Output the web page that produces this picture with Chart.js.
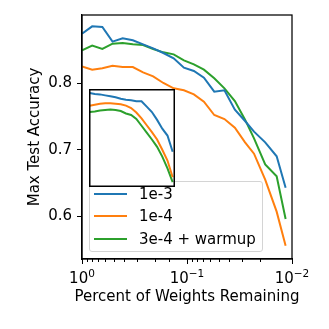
<!DOCTYPE html>
<html>
<head>
<meta charset="utf-8">
<script src="https://cdn.jsdelivr.net/npm/chart.js@4.4.1/dist/chart.umd.min.js"></script>
<style>
  html, body { margin: 0; padding: 0; background: #fff; }
  #wrap { position: relative; width: 329px; height: 329px; }
  #main { position: absolute; left: 0; top: 0; }
  #legend {
    position: absolute; left: 89px; top: 181px; width: 172px; height: 69px;
    border: 1px solid #d4d4d4; border-radius: 3px; background: rgba(255,255,255,0.8);
    font-family: "DejaVu Sans", sans-serif; font-size: 15px; color: #000;
  }
  #legend .sw { position: absolute; left: 4px; width: 33px; height: 2px; }
  #legend .lb { position: absolute; left: 49px; line-height: 18px; white-space: nowrap; }
  #inset { position: absolute; left: 89px; top: 89px; }
</style>
</head>
<body>
<div id="wrap">
  <canvas id="main" width="329" height="329"></canvas>
  <div id="legend"></div>
  <canvas id="inset" width="86" height="98"></canvas>
</div>
<script>
// fraction of weights remaining after each pruning round
const weightsRemaining = [1, 0.8, 0.64, 0.512, 0.41, 0.328, 0.262, 0.21, 0.168, 0.134, 0.107,
  0.086, 0.069, 0.055, 0.044, 0.035, 0.028, 0.023, 0.018, 0.014, 0.0115];

const seriesLabels = ["1e-3", "1e-4", "3e-4 + warmup"];
const seriesColors = ["#1f77b4", "#ff7f0e", "#2ca02c"];

const acc1e3 = [0.874, 0.885, 0.884, 0.862, 0.867, 0.864, 0.858, 0.852, 0.845, 0.837, 0.823,
  0.818, 0.808, 0.787, 0.789, 0.760, 0.743, 0.727, 0.711, 0.690, 0.643];
const acc1e4 = [0.825, 0.820, 0.822, 0.826, 0.824, 0.824, 0.816, 0.810, 0.800, 0.792, 0.789,
  0.783, 0.772, 0.752, 0.746, 0.733, 0.711, 0.694, 0.655, 0.607, 0.556];
const accWarmup = [0.849, 0.856, 0.851, 0.859, 0.860, 0.858, 0.857, 0.851, 0.846, 0.843, 0.834,
  0.828, 0.820, 0.807, 0.792, 0.773, 0.745, 0.717, 0.678, 0.660, 0.596];

// inset (zoomed view), pruning round index
const insetRounds = [0, 1, 2, 3, 4, 5, 6, 7, 8, 9, 10, 11, 12, 13, 14, 15, 16];
const inset1e3 = [0.792, 0.790, 0.789, 0.787, 0.785, 0.783, 0.780, 0.778, 0.777, 0.775, 0.775,
  0.764, 0.753, 0.737, 0.719, 0.705, 0.672];
const inset1e4 = [0.766, 0.768, 0.770, 0.771, 0.771, 0.770, 0.769, 0.766, 0.761, 0.752, 0.740,
  0.726, 0.712, 0.697, 0.676, 0.654, 0.620];
const insetWarmup = [0.753, 0.754, 0.756, 0.757, 0.758, 0.757, 0.755, 0.750, 0.747, 0.739, 0.725,
  0.711, 0.697, 0.682, 0.662, 0.638, 0.610];

const yTicks = [0.6, 0.7, 0.8];
const xMajor = [1, 0.1, 0.01];
const xExponents = ["0", "\u22121", "\u22122"];
const xTitle = "Percent of Weights Remaining";
const yTitle = "Max Test Accuracy";

const FONT = "'DejaVu Sans', sans-serif";
Chart.defaults.font.family = FONT;
Chart.defaults.color = "#000";

function toPoints(xs, ys) {
  return ys.map((y, i) => ({ x: xs[i], y: y }));
}

function isMajor(v) {
  return xMajor.some((m) => Math.abs(Math.log10(v) - Math.log10(m)) < 1e-6);
}

// top/right frame, x tick marks, x tick labels (10^n) and x title
const framePlugin = {
  id: "frame",
  afterDraw(chart) {
    const { ctx, chartArea } = chart;
    const xs = chart.scales.x;
    const b = chartArea.bottom;
    ctx.save();
    ctx.strokeStyle = "#000";
    ctx.lineWidth = 1.25;
    ctx.strokeRect(chartArea.left, chartArea.top, chartArea.right - chartArea.left, b - chartArea.top);
    ctx.lineWidth = 1;
    xs.ticks.forEach((t) => {
      const px = Math.round(xs.getPixelForValue(t.value)) + 0.5;
      ctx.beginPath();
      ctx.moveTo(px, b);
      ctx.lineTo(px, b + (isMajor(t.value) ? 5 : 3));
      ctx.stroke();
    });

    ctx.fillStyle = "#000";
    ctx.textBaseline = "alphabetic";
    ctx.textAlign = "left";
    xMajor.forEach((v, i) => {
      const px = xs.getPixelForValue(v);
      ctx.font = "15px " + FONT;
      const wb = ctx.measureText("10").width;
      ctx.font = "10.5px " + FONT;
      const we = ctx.measureText(xExponents[i]).width;
      const x0 = px - (wb + we) / 2;
      ctx.font = "15px " + FONT;
      ctx.fillText("10", x0, b + 23.5);
      ctx.font = "10.5px " + FONT;
      ctx.fillText(xExponents[i], x0 + wb, b + 18);
    });

    ctx.font = "15px " + FONT;
    ctx.textAlign = "center";
    ctx.fillText(xTitle, (chartArea.left + chartArea.right) / 2, b + 42);
    ctx.restore();
  },
};

const mainData = [acc1e3, acc1e4, accWarmup];

new Chart(document.getElementById("main").getContext("2d"), {
  type: "line",
  data: {
    datasets: mainData.map((d, i) => ({
      label: seriesLabels[i],
      data: toPoints(weightsRemaining, d),
      borderColor: seriesColors[i],
      borderWidth: 2,
      pointRadius: 0,
      tension: 0,
      fill: false,
    })),
  },
  options: {
    responsive: false,
    animation: false,
    devicePixelRatio: 1,
    layout: { padding: { top: 15, right: 37, left: 0, bottom: 0 } },
    plugins: { legend: { display: false }, tooltip: { enabled: false } },
    scales: {
      x: {
        type: "logarithmic",
        min: 0.01,
        max: 1,
        reverse: true,
        afterFit: (s) => { s.height = 70; },
        grid: { display: false },
        border: { display: true, color: "#000", width: 1.25 },
        ticks: { display: false, autoSkip: false },
        title: { display: false },
      },
      y: {
        min: 0.536,
        max: 0.902,
        afterFit: (s) => { s.width = 82; },
        afterBuildTicks: (s) => { s.ticks = yTicks.map((v) => ({ value: v })); },
        grid: { drawOnChartArea: false, tickLength: 5, color: "#000", tickWidth: 1 },
        border: { display: true, color: "#000", width: 1.25 },
        ticks: { padding: 5, font: { size: 15 }, callback: (v) => v.toFixed(1) },
        title: {
          display: true,
          text: yTitle,
          font: { size: 15 },
          padding: { top: 26, bottom: 0 },
        },
      },
    },
  },
  plugins: [framePlugin],
});

// legend
const legendEl = document.getElementById("legend");
const rowCenters = [11.5, 34, 56.5];
seriesLabels.forEach((lab, i) => {
  const sw = document.createElement("div");
  sw.className = "sw";
  sw.style.top = (rowCenters[i] - 1) + "px";
  sw.style.background = seriesColors[i];
  legendEl.appendChild(sw);
  const lb = document.createElement("div");
  lb.className = "lb";
  lb.style.top = (rowCenters[i] - 9) + "px";
  lb.textContent = lab;
  legendEl.appendChild(lb);
});

// inset
const insetBorder = {
  id: "insetBorder",
  afterDraw(chart) {
    const { ctx, chartArea } = chart;
    ctx.save();
    ctx.strokeStyle = "#000";
    ctx.lineWidth = 1.5;
    ctx.strokeRect(chartArea.left + 0.75, chartArea.top + 0.75, chartArea.right - chartArea.left - 1.5, chartArea.bottom - chartArea.top - 1.5);
    ctx.restore();
  },
};
const insetBg = {
  id: "insetBg",
  beforeDraw(chart) {
    const { ctx } = chart;
    ctx.save();
    ctx.fillStyle = "#fff";
    ctx.fillRect(0, 0, chart.width, chart.height);
    ctx.restore();
  },
};

const insetData = [inset1e3, inset1e4, insetWarmup];
new Chart(document.getElementById("inset").getContext("2d"), {
  type: "line",
  data: {
    datasets: insetData.map((d, i) => ({
      label: seriesLabels[i],
      data: toPoints(insetRounds, d),
      borderColor: seriesColors[i],
      borderWidth: 2,
      pointRadius: 0,
      tension: 0,
    })),
  },
  options: {
    responsive: false,
    animation: false,
    devicePixelRatio: 1,
    layout: { padding: 0 },
    plugins: { legend: { display: false }, tooltip: { enabled: false } },
    scales: {
      x: { type: "linear", min: -0.12, max: 16.45, display: false },
      y: { min: 0.6, max: 0.8, display: false },
    },
  },
  plugins: [insetBg, insetBorder],
});
</script>
</body>
</html>
